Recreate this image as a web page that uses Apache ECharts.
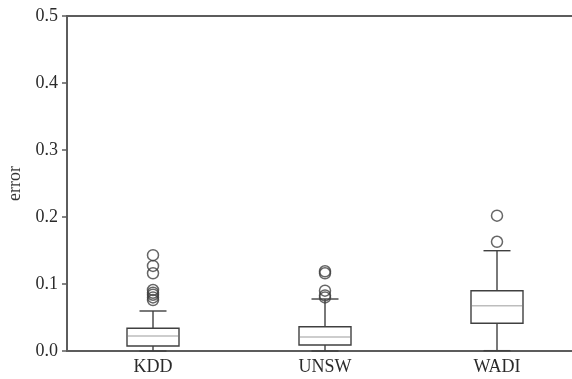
<!DOCTYPE html>
<html>
<head>
<meta charset="utf-8">
<script src="https://cdn.jsdelivr.net/npm/echarts@6/dist/echarts.min.js"></script>
<style>html,body{margin:0;padding:0;background:#fff;overflow:hidden;width:572px;height:379px;}#c{width:600px;height:379px;}</style>
</head>
<body>
<div id="c"></div>
<script>
const categories = ['KDD', 'UNSW', 'WADI'];
// [min, Q1, median, Q3, max]
const boxKDD = [0.000, 0.0075, 0.0224, 0.0339, 0.0597];
const boxUNSW = [0.000, 0.009, 0.0209, 0.0363, 0.0776];
const boxWADI = [0.0005, 0.0414, 0.0676, 0.090, 0.1497];
const outKDD = [0.143, 0.127, 0.116, 0.091, 0.087, 0.084, 0.080, 0.076];
const outUNSW = [0.119, 0.116, 0.090, 0.083, 0.080];
const outWADI = [0.202, 0.163];
const yTicks = [0.0, 0.1, 0.2, 0.3, 0.4, 0.5];

const boxes = [boxKDD, boxUNSW, boxWADI];
const boxData = boxes.map((b, i) => [i].concat(b));
const outliers = [];
[outKDD, outUNSW, outWADI].forEach((arr, i) => arr.forEach(v => outliers.push([i, v])));

const lineColor = '#404040';
const axisColor = '#5c5c5c';
const font = 'Liberation Serif';
const chart = echarts.init(document.getElementById('c'));
chart.setOption({
  animation: false,
  grid: { left: 67, top: 16, width: 516, height: 335, outerBoundsMode: 'none', containLabel: false,
    show: true, borderColor: axisColor, borderWidth: 1.8, backgroundColor: 'transparent' },
  xAxis: {
    type: 'category', data: categories, boundaryGap: true,
    axisLine: { lineStyle: { color: axisColor, width: 1.8 } },
    axisTick: { alignWithLabel: true, length: 5, lineStyle: { color: axisColor, width: 1.5 } },
    axisLabel: { color: '#2a2a2a', fontFamily: font, fontSize: 18, margin: 7 },
    splitLine: { show: false }
  },
  yAxis: {
    type: 'value', min: 0, max: 0.5, interval: 0.1,
    name: 'error', nameLocation: 'middle', nameGap: 40, nameRotate: 90,
    nameTextStyle: { color: '#333', fontFamily: font, fontSize: 18 },
    axisLine: { show: true, lineStyle: { color: axisColor, width: 1.8 } },
    axisTick: { show: true, length: 5, lineStyle: { color: axisColor, width: 1.5 } },
    axisLabel: { color: '#2a2a2a', fontFamily: font, fontSize: 18, margin: 9,
      formatter: v => { const t = yTicks.find(x => Math.abs(x - v) < 1e-9); return t === undefined ? '' : t.toFixed(1); } },
    splitLine: { show: false }
  },
  series: [
    {
      type: 'custom', data: boxData,
      renderItem: (params, api) => {
        const i = api.value(0);
        const pMin = api.coord([i, api.value(1)]);
        const pQ1 = api.coord([i, api.value(2)]);
        const pMed = api.coord([i, api.value(3)]);
        const pQ3 = api.coord([i, api.value(4)]);
        const pMax = api.coord([i, api.value(5)]);
        const x = pMed[0];
        const hw = 26, cw = 13.5;
        const st = { stroke: lineColor, lineWidth: 1.4, fill: null };
        return { type: 'group', children: [
          { type: 'line', shape: { x1: x, y1: pQ3[1], x2: x, y2: pMax[1] }, style: st },
          { type: 'line', shape: { x1: x, y1: pQ1[1], x2: x, y2: pMin[1] }, style: st },
          { type: 'line', shape: { x1: x - cw, y1: pMax[1], x2: x + cw, y2: pMax[1] }, style: st },
          { type: 'line', shape: { x1: x - cw, y1: pMin[1], x2: x + cw, y2: pMin[1] }, style: st },
          { type: 'rect', shape: { x: x - hw, y: pQ3[1], width: 2 * hw, height: pQ1[1] - pQ3[1] }, style: { stroke: lineColor, lineWidth: 1.4, fill: '#fff' } },
          { type: 'line', shape: { x1: x - hw + 1, y1: pMed[1], x2: x + hw - 1, y2: pMed[1] }, style: { stroke: '#bdbdbd', lineWidth: 1.5 } }
        ] };
      },
      z: 3
    },
    {
      type: 'scatter', data: outliers, symbol: 'circle', symbolSize: 11, z: 4,
      itemStyle: { color: 'transparent', borderColor: lineColor, borderWidth: 1.5 }
    }
  ]
});
</script>
</body>
</html>
